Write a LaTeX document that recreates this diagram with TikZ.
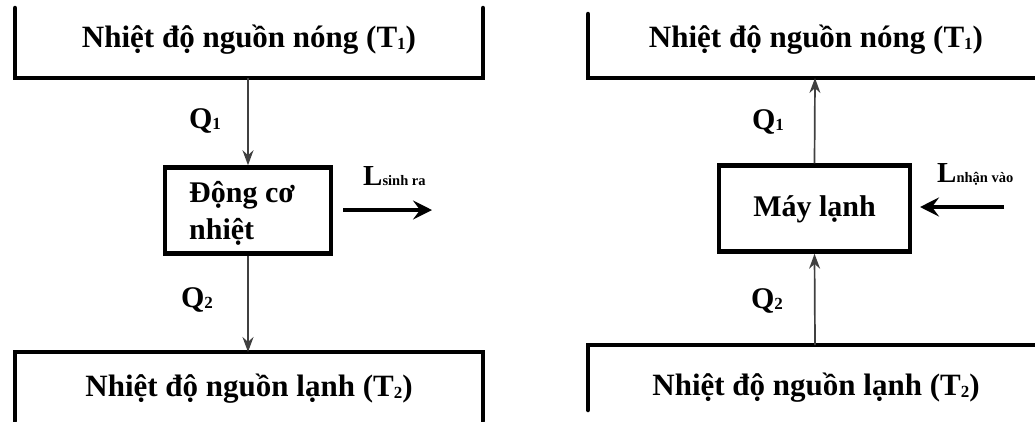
\documentclass[tikz,border=0pt]{standalone}
\usepackage{fontspec}
\setmainfont{Liberation Serif}
\usetikzlibrary{arrows.meta}
\definecolor{flow}{HTML}{404040}
\newcommand{\sub}[1]{\raisebox{-0.1ex}{\fontsize{17}{17}\selectfont #1}}
\newcommand{\tinysub}[1]{\raisebox{0ex}{\fontsize{14.5}{15}\selectfont #1}}
\begin{document}
\begin{tikzpicture}[x=1pt,y=-1pt,
  wall/.style={line width=4.5pt,line cap=round,line join=miter},
  lbl/.style={font=\fontsize{31}{34}\selectfont\bfseries,inner sep=0pt},
  qlbl/.style={font=\fontsize{30}{34}\selectfont\bfseries,inner sep=0pt},
  machine/.style={draw,line width=4.5pt,minimum width=166pt,minimum height=86pt,inner sep=0pt},
  heat/.style={draw=flow,line width=1.7pt,-{Stealth[length=15pt,width=11pt]}},
  work/.style={line width=4.5pt,-{Stealth[length=19pt,width=19pt,inset=7pt]}},
  wlbl/.style={font=\fontsize{29}{32}\selectfont\bfseries,inner sep=0pt,anchor=west}]
\useasboundingbox (0,0) rectangle (1035,421);
% ---------- left: heat engine ----------
\draw[wall] (15,8) -- (15,78) -- (483,78) -- (483,8);
\draw[wall] (15,421) -- (15,352) -- (483,352) -- (483,421);
\node[lbl] (hotL) at (249,40) {Nhiệt độ nguồn nóng (T\sub{1})};
\node[lbl] (coldL) at (249,389) {Nhiệt độ nguồn lạnh (T\sub{2})};
\coordinate (hotLw) at (248,78);
\coordinate (coldLw) at (248,352);
\node[machine] (eng) at (248,210.5) {};
\node[lbl,align=left,anchor=west,font=\fontsize{30}{37}\selectfont\bfseries] (engt) at (189,213) {Động cơ\\nhiệt};
\draw[heat] (hotLw) -- (eng.north);
\draw[heat] (eng.south) -- (coldLw);
\node[qlbl] (q1L) at (205,121) {Q\sub{1}};
\node[qlbl] (q2L) at (197,300) {Q\sub{2}};
\coordinate (wsL) at (343,210);
\coordinate (weL) at (432,210);
\draw[work] (wsL) -- (weL);
\node[wlbl] (lL) at (363,176) {L\tinysub{sinh ra}};
% ---------- right: refrigerator ----------
\draw[wall] (588,14) -- (588,78) -- (1037,78);
\draw[wall] (1037,345) -- (588,345) -- (588,410);
\node[lbl] (hotR) at (816,40) {Nhiệt độ nguồn nóng (T\sub{1})};
\node[lbl] (coldR) at (816,388) {Nhiệt độ nguồn lạnh (T\sub{2})};
\coordinate (hotRw) at (815,78);
\coordinate (coldRw) at (815,345);
\node[machine,minimum width=191pt] (fr) at (814.5,208.5) {};
\node[lbl,font=\fontsize{30}{34}\selectfont\bfseries] (frt) at (814.5,209) {Máy lạnh};
\draw[heat] (fr.north) -- (hotRw);
\draw[heat] (coldRw) -- (fr.south);
\node[qlbl] (q1R) at (768,122) {Q\sub{1}};
\node[qlbl] (q2R) at (767,301) {Q\sub{2}};
\coordinate (wsR) at (1004,207);
\coordinate (weR) at (920,207);
\draw[work] (wsR) -- (weR);
\node[wlbl] (lR) at (937,174) {L\tinysub{nhận vào}};
\end{tikzpicture}
\end{document}
